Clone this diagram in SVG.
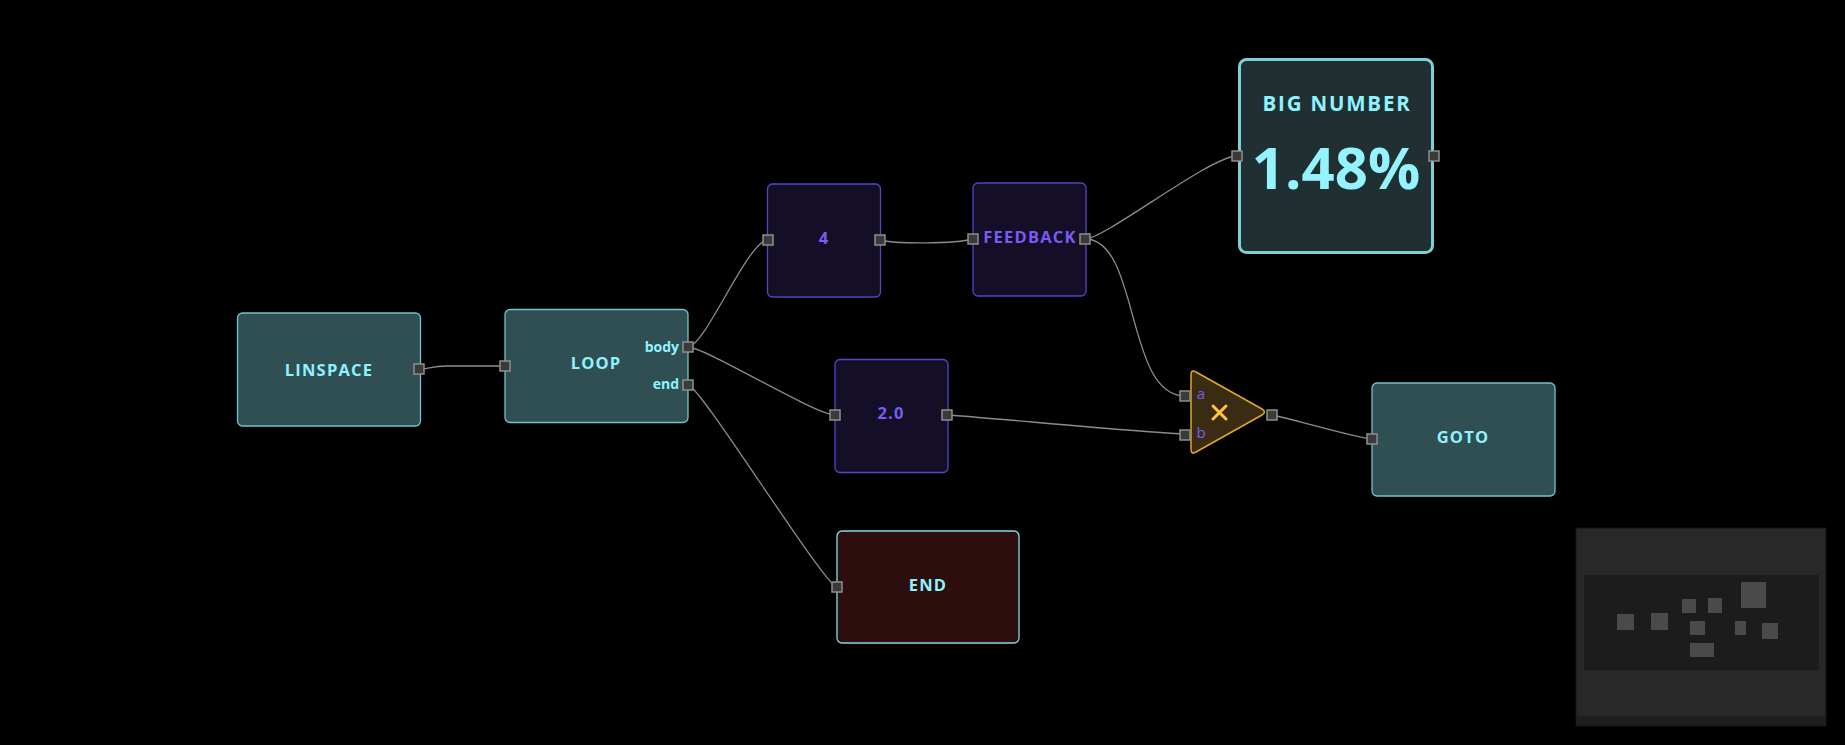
<svg xmlns="http://www.w3.org/2000/svg" width="1845" height="745" viewBox="0 0 1845 745">
<style>
.bg{fill:#000}
.teal{fill:#2f4f52;stroke:#72c4ca;stroke-width:1.3}
.purp{fill:#140f26;stroke:#5a41c8;stroke-width:1.3}
.endn{fill:#2c0e0e;stroke:#86d9e2;stroke-width:1.3}
.big{fill:#1f2f32;stroke:#7fd0d6;stroke-width:3}
.mult{fill:#3a2c12;stroke:#e2a62a;stroke-width:1.5}
.port{fill:#3a3a3a;stroke:#8e8e8e;stroke-width:1.5}
.lbl{font-family:"Open Sans","Noto Sans","Liberation Sans",sans-serif;font-weight:700;text-anchor:middle}
.tt{fill:#8ff2ff;font-size:16.5px;letter-spacing:1.2px}
.pt{fill:#7a5af5;font-size:16.5px;letter-spacing:1.2px}
.sl{font-family:"Open Sans","Noto Sans","Liberation Sans",sans-serif;font-weight:700;font-size:14px;fill:#8ff2ff;text-anchor:end}
.ab{font-family:"Open Sans","Noto Sans","Liberation Sans",sans-serif;font-weight:400;font-size:15px;fill:#7a5af5;text-anchor:middle}
.wire{fill:none;stroke:#8c8c8c;stroke-width:1.3}
.mm{fill:#4a4a4a}
</style>
<rect class="bg" x="0" y="0" width="1845" height="745"/>
<g id="connectors">
<path class="wire" d="M419,369 C432,369 430,366 446,366 L505,366"/>
<path class="wire" d="M688,347 C705,347 748,240 768,240"/>
<path class="wire" d="M688,347 C705,347 815,415 835,415"/>
<path class="wire" d="M688,385 C700,385 825,587 837,587"/>
<path class="wire" d="M880,240 C895,244 955,244 973,239"/>
<path class="wire" d="M1085,239 C1105,239 1210,156 1237,156"/>
<path class="wire" d="M1085,239 C1140,239 1125,396 1185,396"/>
<path class="wire" d="M947,415 C970,416 1160,434 1185,434"/>
<path class="wire" d="M1272,415 C1285,417 1360,439 1372,439"/>
</g>
<g id="linspace">
<rect class="teal" x="237.5" y="313" width="183" height="113" rx="5"/>
<text class="lbl tt" x="329" y="376">LINSPACE</text>
<rect class="port" x="414" y="364" width="10" height="10"/>
</g>
<g id="loop">
<rect class="teal" x="505" y="309.5" width="183" height="113" rx="5"/>
<text class="lbl tt" x="596" y="369">LOOP</text>
<text class="sl" x="679" y="352">body</text>
<text class="sl" x="679" y="389">end</text>
<rect class="port" x="500" y="361" width="10" height="10"/>
<rect class="port" x="683" y="342" width="10" height="10"/>
<rect class="port" x="683" y="380" width="10" height="10"/>
</g>
<g id="n4">
<rect class="purp" x="767.5" y="184" width="113" height="113" rx="5"/>
<text class="lbl pt" x="824" y="244">4</text>
<rect class="port" x="763" y="235" width="10" height="10"/>
<rect class="port" x="875" y="235" width="10" height="10"/>
</g>
<g id="feedback">
<rect class="purp" x="973" y="183" width="113" height="113" rx="5"/>
<text class="lbl pt" x="1030" y="243" letter-spacing="0.9">FEEDBACK</text>
<rect class="port" x="968" y="234" width="10" height="10"/>
<rect class="port" x="1080" y="234" width="10" height="10"/>
</g>
<g id="bignumber">
<rect class="big" x="1239.5" y="59.5" width="193" height="193" rx="7"/>
<text class="lbl" x="1337" y="111" fill="#8ff2ff" font-size="20.5" letter-spacing="1.8">BIG NUMBER</text>
<text class="lbl" x="1336" y="189" fill="#94f3ff" font-size="58">1.48%</text>
<rect class="port" x="1232" y="151" width="10" height="10"/>
<rect class="port" x="1429" y="151" width="10" height="10"/>
</g>
<g id="n20">
<rect class="purp" x="835" y="359.5" width="113" height="113" rx="5"/>
<text class="lbl pt" x="891" y="419">2.0</text>
<rect class="port" x="830" y="410" width="10" height="10"/>
<rect class="port" x="942" y="410" width="10" height="10"/>
</g>
<g id="multiply">
<path class="mult" d="M1191,375 Q1191,369 1196,372 L1262,409 Q1267,412 1262,415 L1196,452 Q1191,455 1191,449 Z"/>
<text class="ab" x="1201" y="399">a</text>
<text class="ab" x="1201" y="438">b</text>
<path d="M1213,406 L1226,419 M1226,406 L1213,419" stroke="#ffc53a" stroke-width="3" stroke-linecap="round"/>
<rect class="port" x="1180" y="391" width="10" height="10"/>
<rect class="port" x="1180" y="430" width="10" height="10"/>
<rect class="port" x="1267" y="410" width="10" height="10"/>
</g>
<g id="goto">
<rect class="teal" x="1372" y="383" width="183" height="113" rx="5"/>
<text class="lbl tt" x="1463" y="443">GOTO</text>
<rect class="port" x="1367" y="434" width="10" height="10"/>
</g>
<g id="end">
<rect class="endn" x="837" y="531" width="182" height="112" rx="5"/>
<text class="lbl tt" x="928" y="591">END</text>
<rect class="port" x="832" y="582" width="10" height="10"/>
</g>
<g id="minimap">
<rect x="1576" y="528" width="250" height="198" fill="#282828" stroke="#151515" stroke-width="1"/>
<rect x="1576.5" y="716" width="249" height="9.5" fill="#1e1e1e"/>
<rect x="1584" y="575" width="235" height="95" fill="#1c1c1c"/>
<rect class="mm" x="1617" y="614" width="17" height="16"/>
<rect class="mm" x="1651" y="613" width="17" height="17"/>
<rect class="mm" x="1682" y="599" width="14" height="14"/>
<rect class="mm" x="1708" y="598" width="14" height="15"/>
<rect class="mm" x="1741" y="582" width="25" height="26"/>
<rect class="mm" x="1690" y="621" width="15" height="14"/>
<rect class="mm" x="1735" y="621" width="11" height="14"/>
<rect class="mm" x="1762" y="623" width="16" height="16"/>
<rect class="mm" x="1690" y="643" width="24" height="14"/>
</g>
</svg>
